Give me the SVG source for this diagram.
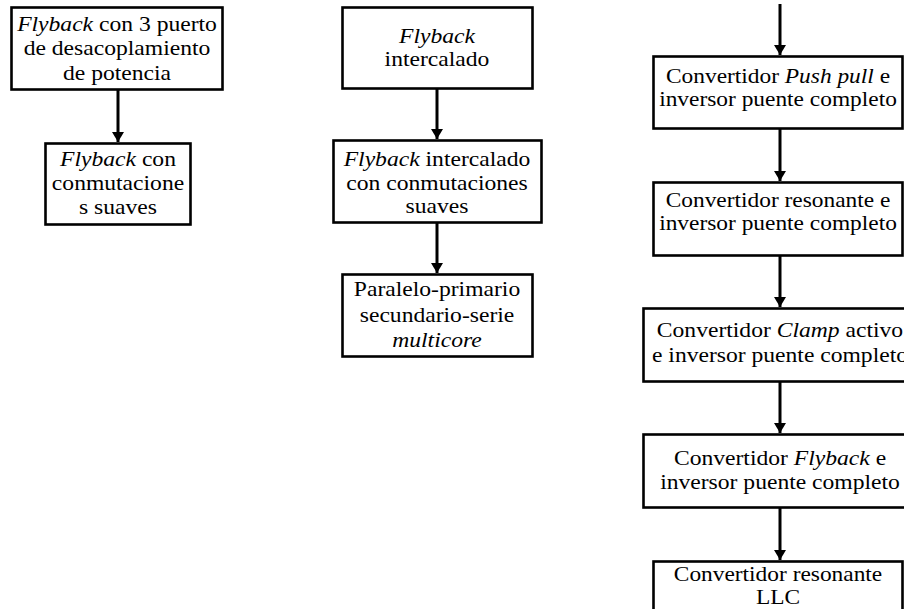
<svg xmlns="http://www.w3.org/2000/svg" width="904" height="609" viewBox="0 0 904 609">
  <style>
    .box { fill: #ffffff; stroke: #000000; stroke-width: 2.6; }
    .lbl { font-family: "Liberation Serif", "Times New Roman", serif; font-size: 20px; fill: #000000; text-anchor: middle; }
    .it { font-style: italic; }
    .wire { stroke: #000000; stroke-width: 3; fill: none; marker-end: url(#head); }
  </style>
  <defs>
    <marker id="head" markerUnits="userSpaceOnUse" viewBox="0 0 10 12" refX="10" refY="6" markerWidth="10" markerHeight="12" orient="auto">
      <path d="M0,0 L10,6 L0,12 z" fill="#000000"/>
    </marker>
  </defs>
  <rect width="904" height="609" fill="#ffffff"/>

  <!-- connectors -->
  <g id="connectors">
    <line class="wire" x1="118" y1="90" x2="118" y2="142"/>
    <line class="wire" x1="437" y1="89" x2="437" y2="139"/>
    <line class="wire" x1="437" y1="223" x2="437" y2="273"/>
    <line class="wire" x1="780" y1="4" x2="780" y2="55"/>
    <line class="wire" x1="780" y1="129" x2="780" y2="181"/>
    <line class="wire" x1="780" y1="256" x2="780" y2="307"/>
    <line class="wire" x1="780" y1="382" x2="780" y2="433"/>
    <line class="wire" x1="780" y1="508" x2="780" y2="560"/>
  </g>

  <!-- left column -->
  <g id="n-flyback-3p">
    <rect class="box" x="11.5" y="7.5" width="211" height="82"/>
    <text class="lbl" transform="translate(117 0) scale(1.18 1)" y="31"><tspan class="it">Flyback</tspan> con 3 puerto</text>
    <text class="lbl" transform="translate(117 0) scale(1.18 1)" y="55">de desacoplamiento</text>
    <text class="lbl" transform="translate(117 0) scale(1.18 1)" y="80">de potencia</text>
  </g>
  <g id="n-flyback-soft">
    <rect class="box" x="45.5" y="143.5" width="145" height="81"/>
    <text class="lbl" transform="translate(118 0) scale(1.18 1)" y="166"><tspan class="it">Flyback</tspan> con</text>
    <text class="lbl" transform="translate(118 0) scale(1.18 1)" y="190">conmutacione</text>
    <text class="lbl" transform="translate(118 0) scale(1.18 1)" y="214">s suaves</text>
  </g>

  <!-- middle column -->
  <g id="n-interleaved">
    <rect class="box" x="342.5" y="7.5" width="190" height="81"/>
    <text class="lbl it" transform="translate(437 0) scale(1.18 1)" y="43">Flyback</text>
    <text class="lbl" transform="translate(437 0) scale(1.18 1)" y="66">intercalado</text>
  </g>
  <g id="n-interleaved-soft">
    <rect class="box" x="333.5" y="140.5" width="208" height="82"/>
    <text class="lbl" transform="translate(437 0) scale(1.18 1)" y="166"><tspan class="it">Flyback</tspan> intercalado</text>
    <text class="lbl" transform="translate(437 0) scale(1.18 1)" y="190">con conmutaciones</text>
    <text class="lbl" transform="translate(437 0) scale(1.18 1)" y="213">suaves</text>
  </g>
  <g id="n-multicore">
    <rect class="box" x="342.5" y="274.5" width="190" height="82"/>
    <text class="lbl" transform="translate(437 0) scale(1.18 1)" y="296">Paralelo-primario</text>
    <text class="lbl" transform="translate(437 0) scale(1.18 1)" y="322">secundario-serie</text>
    <text class="lbl it" transform="translate(437 0) scale(1.18 1)" y="347">multicore</text>
  </g>

  <!-- right column -->
  <g id="n-pushpull">
    <rect class="box" x="653.5" y="56.5" width="249" height="72"/>
    <text class="lbl" transform="translate(778 0) scale(1.17 1)" y="83">Convertidor <tspan class="it">Push pull</tspan> e</text>
    <text class="lbl" transform="translate(778 0) scale(1.17 1)" y="106">inversor puente completo</text>
  </g>
  <g id="n-resonant">
    <rect class="box" x="653.5" y="182.5" width="249" height="73"/>
    <text class="lbl" transform="translate(778 0) scale(1.17 1)" y="207">Convertidor resonante e</text>
    <text class="lbl" transform="translate(778 0) scale(1.17 1)" y="230">inversor puente completo</text>
  </g>
  <g id="n-clamp">
    <rect class="box" x="643.5" y="308.5" width="274" height="73"/>
    <text class="lbl" transform="translate(780 0) scale(1.18 1)" y="337">Convertidor <tspan class="it">Clamp</tspan> activo</text>
    <text class="lbl" transform="translate(780 0) scale(1.18 1)" y="362">e inversor puente completo</text>
  </g>
  <g id="n-flyback-fb">
    <rect class="box" x="643.5" y="434.5" width="274" height="73"/>
    <text class="lbl" transform="translate(780 0) scale(1.18 1)" y="465">Convertidor <tspan class="it">Flyback</tspan> e</text>
    <text class="lbl" transform="translate(780 0) scale(1.18 1)" y="489">inversor puente completo</text>
  </g>
  <g id="n-llc">
    <rect class="box" x="653.5" y="561.5" width="249" height="50"/>
    <text class="lbl" transform="translate(778 0) scale(1.17 1)" y="581">Convertidor resonante</text>
    <text class="lbl" transform="translate(778 0) scale(1.17 1)" y="604">LLC</text>
  </g>
</svg>
